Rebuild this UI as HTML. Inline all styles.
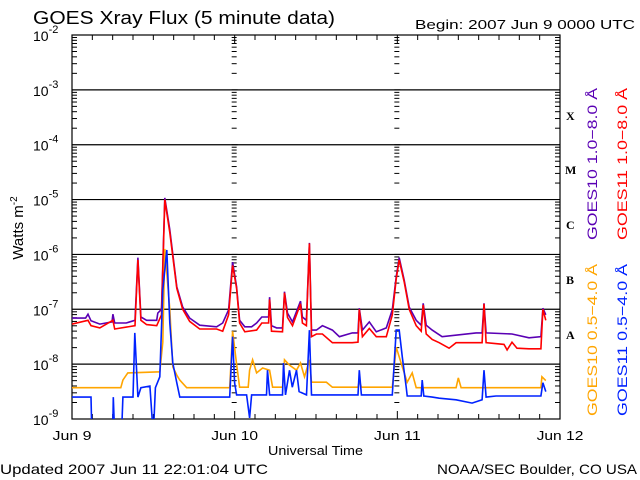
<!DOCTYPE html>
<html><head><meta charset="utf-8"><style>
html,body{margin:0;padding:0;background:#fff;}
svg{display:block;font-family:"Liberation Sans","DejaVu Sans",sans-serif;}
</style></head><body>
<svg id="chart" width="640" height="480" viewBox="0 0 640 480">
<text x="33" y="24" font-size="18" textLength="302" lengthAdjust="spacingAndGlyphs">GOES Xray Flux (5 minute data)</text>
<text x="415" y="29" font-size="13" textLength="220" lengthAdjust="spacingAndGlyphs">Begin:  2007 Jun 9 0000 UTC</text>
<text x="0" y="474" font-size="14" textLength="268" lengthAdjust="spacingAndGlyphs">Updated 2007 Jun 11 22:01:04 UTC</text>
<text x="437" y="474" font-size="14" textLength="200" lengthAdjust="spacingAndGlyphs">NOAA/SEC Boulder, CO USA</text>
<text x="268" y="455" font-size="13" textLength="95" lengthAdjust="spacingAndGlyphs">Universal Time</text>
<text transform="translate(23,228) rotate(-90)" font-size="15" text-anchor="middle">Watts m<tspan font-size="10" dy="-6">-2</tspan></text>
<g id="axes"></g>
<g id="series"></g>
<g font-family="Liberation Serif,serif" font-weight="bold" font-size="12">
<text x="566" y="120">X</text>
<text x="565" y="174">M</text>
<text x="566" y="229">C</text>
<text x="566" y="284">B</text>
<text x="566" y="339">A</text>
</g>
<text transform="translate(597,240) rotate(-90)" font-size="14" fill="#5a00b4" textLength="152" lengthAdjust="spacingAndGlyphs">GOES10 1.0−8.0 Å</text>
<text transform="translate(627,240) rotate(-90)" font-size="14" fill="#ff0000" textLength="152" lengthAdjust="spacingAndGlyphs">GOES11 1.0−8.0 Å</text>
<text transform="translate(597,416) rotate(-90)" font-size="14" fill="#ffa500" textLength="152" lengthAdjust="spacingAndGlyphs">GOES10 0.5−4.0 Å</text>
<text transform="translate(627,416) rotate(-90)" font-size="14" fill="#0022ff" textLength="152" lengthAdjust="spacingAndGlyphs">GOES11 0.5−4.0 Å</text>
</svg>
<script>
const dayLabels = ["Jun 9","Jun 10","Jun 11","Jun 12"];
const decadeExps = [-2,-3,-4,-5,-6,-7,-8,-9];
const g10LongT = [0,2.0,2.36,2.8,4.1,5.9,6.04,6.3,8.0,9.3,9.72,10.16,11,12.5,12.66,13.2,13.69,14.43,15.46,16.34,17.37,18.84,21.34,22.23,23.11,23.70,24.29,24.73,25.5,26.5,27.23,28.0,29.0,29.15,29.44,30.18,31.06,31.35,31.8,32.53,33.71,34.0,34.59,35.03,35.33,36.06,36.95,38.42,39.45,41.36,42.2,42.39,42.84,43.87,44.9,46.37,47.25,47.84,48.28,49.02,49.75,50.78,51.52,51.81,52.26,53.14,54.61,59.62,60.5,60.79,61.09,64.92,67.42,69.18,69.48,69.9];
const g10LongV = [-7.16,-7.16,-7.09,-7.21,-7.27,-7.23,-7.09,-7.25,-7.25,-7.2,-6.06,-7.14,-7.2,-7.2,-7.07,-7.0,-4.97,-5.55,-6.59,-6.96,-7.16,-7.29,-7.32,-7.25,-7.01,-6.14,-6.59,-7.2,-7.32,-7.32,-7.25,-7.14,-7.14,-6.78,-7.3,-7.34,-7.34,-6.68,-7.07,-7.23,-6.85,-7.14,-7.2,-5.79,-7.38,-7.38,-7.3,-7.38,-7.5,-7.43,-7.43,-6.98,-7.38,-7.23,-7.41,-7.34,-7.01,-6.41,-6.06,-6.47,-6.96,-7.2,-7.29,-6.89,-7.29,-7.38,-7.5,-7.43,-7.43,-6.89,-7.43,-7.45,-7.52,-7.5,-6.98,-7.1];
const g11LongT = [0,2.36,2.8,4.1,6.04,6.3,9.3,9.72,10.16,11,12.5,13.2,13.69,14.43,15.46,16.34,17.37,18.84,21.34,22.23,23.11,23.70,24.29,24.73,25.5,27.23,28.0,29.0,29.15,29.44,31.06,31.35,31.8,32.53,33.71,34.0,34.59,35.03,35.33,36.06,36.95,38.42,41.36,42.2,42.39,42.84,43.87,44.9,46.37,47.25,47.84,48.28,49.02,49.75,50.78,51.52,51.81,52.26,53.14,54.17,55.64,56.67,59.62,60.5,60.79,61.09,63.74,64.2,64.92,65.65,67.42,69.18,69.48,69.9];
const g11LongV = [-7.27,-7.2,-7.3,-7.34,-7.2,-7.36,-7.3,-6.1,-7.2,-7.28,-7.3,-7.1,-5.0,-5.6,-6.62,-7.0,-7.22,-7.36,-7.36,-7.4,-7.1,-6.2,-6.62,-7.25,-7.41,-7.38,-7.25,-7.25,-6.82,-7.4,-7.41,-6.7,-7.15,-7.3,-6.9,-7.25,-7.3,-5.8,-7.5,-7.45,-7.45,-7.61,-7.61,-7.6,-7.0,-7.5,-7.35,-7.5,-7.5,-7.1,-6.45,-6.1,-6.5,-7.0,-7.3,-7.4,-6.92,-7.45,-7.55,-7.61,-7.71,-7.61,-7.61,-7.61,-6.9,-7.61,-7.64,-7.74,-7.6,-7.71,-7.72,-7.72,-7.0,-7.2];
const g10ShortT = [0,7.2,7.51,8.24,12.95,13.4,13.69,14.43,14.87,15.46,15.9,16.93,23.26,23.70,24.29,24.73,26.0,26.2,26.64,27.23,28.12,29.15,29.59,31.06,31.35,32.09,33.12,33.71,34.3,35.03,35.33,37.54,38.42,42.2,42.39,42.7,47.25,47.84,48.73,49.46,50.2,50.78,56.67,57.0,57.41,69.18,69.33,69.9];
const g10ShortV = [-8.43,-8.43,-8.29,-8.16,-8.14,-7.6,-5.9,-7.0,-8.05,-8.2,-8.29,-8.43,-8.43,-7.4,-8.0,-8.42,-8.42,-8.11,-7.92,-8.16,-8.07,-8.11,-8.42,-8.42,-7.92,-8.02,-8.11,-7.98,-8.23,-7.92,-8.33,-8.33,-8.42,-8.42,-8.3,-8.42,-8.42,-7.69,-8.05,-8.33,-8.16,-8.43,-8.43,-8.25,-8.43,-8.43,-8.23,-8.3];
const g11ShortT = [0,2.8,2.94,6.0,6.1,6.3,7.3,7.51,9.0,9.27,9.72,10.16,11.5,12.0,12.3,12.95,13.4,13.98,14.43,14.87,15.46,15.9,23.26,23.70,23.99,24.29,25.76,26.2,26.5,28.7,28.85,29.15,31.06,31.2,31.5,32.09,32.5,33.12,33.5,34.6,35.03,35.33,42.2,42.39,42.7,47.25,47.84,48.28,48.73,49.31,49.46,51.52,51.67,51.9,53.14,54.17,56.67,59.03,60.5,60.79,61.09,62.56,69.18,69.48,69.9];
const g11ShortV = [-8.6,-8.6,-9.3,-9.3,-8.6,-9.3,-9.3,-8.6,-8.6,-7.43,-8.6,-8.43,-8.4,-9.3,-8.43,-8.23,-6.65,-5.92,-7.25,-7.98,-8.34,-8.6,-8.6,-7.5,-8.34,-8.56,-8.56,-8.98,-8.56,-8.56,-8.11,-8.56,-8.56,-7.98,-8.56,-8.11,-8.42,-8.11,-8.5,-8.56,-7.38,-8.56,-8.56,-8.11,-8.56,-8.56,-7.38,-7.38,-7.87,-8.42,-8.58,-8.58,-8.29,-8.58,-8.6,-8.62,-8.65,-8.71,-8.65,-8.11,-8.6,-8.58,-8.58,-8.34,-8.5];

const X0=72, X1=560, Y0=35, Y1=419;
function xs(h){return X0+(X1-X0)*h/72;}
function ys(l){return Y0+(Y1-Y0)*(-2-l)/7;}
const NS="http://www.w3.org/2000/svg";
function mk(tag,attrs,parent){const e=document.createElementNS(NS,tag);for(const k in attrs)e.setAttribute(k,attrs[k]);parent.appendChild(e);return e;}
const axes=document.getElementById('axes');
const frame=mk('rect',{x:X0,y:Y0,width:X1-X0,height:Y1-Y0,fill:'none',stroke:'#000','stroke-width':1.2},axes);


decadeExps.forEach(function(e,i){
  const y=ys(e);
  if(e<-2&&e>-9){const gl=mk('line',{x1:X0,x2:X1,y1:y,y2:y,stroke:'#000','stroke-width':1.2},axes);
    
    }
  const t=mk('text',{x:33,y:y+6,'font-size':14},axes);
  
  
  t.textContent='10';
  const s=mk('tspan',{'font-size':11,dy:-8},t); s.textContent=String(e);
  if(e>-9){for(let m=2;m<=9;m++){
    const yy=ys(e-1+Math.log10(m));
    [X0, X1-5, xs(24)-3, xs(48)-3].forEach(function(xx){mk('line',{x1:xx,x2:xx+5,y1:yy,y2:yy,stroke:'#000','stroke-width':1},axes);});
  }}
  [xs(24)-3, xs(48)-3].forEach(function(xx){mk('line',{x1:xx,x2:xx+6,y1:y,y2:y,stroke:'#000','stroke-width':1},axes);});
});
for(let h=3;h<72;h+=3){
  const x=xs(h); const L=(h%24===0)?8:5;
  mk('line',{x1:x,x2:x,y1:Y1,y2:Y1-L,stroke:'#000','stroke-width':1},axes);
  mk('line',{x1:x,x2:x,y1:Y0,y2:Y0+L,stroke:'#000','stroke-width':1},axes);
}
dayLabels.forEach(function(d,i){
  const t=mk('text',{x:xs(i*24),y:440,'font-size':13,'text-anchor':'middle','textLength':d.length*7.8,'lengthAdjust':'spacingAndGlyphs'},axes);
  
  
  t.textContent=d;
});
const sg=document.getElementById('series');
mk('clipPath',{id:'pc'},sg).appendChild(document.createElementNS(NS,'rect'));
const cr=sg.querySelector('clipPath rect');cr.setAttribute('x',X0);cr.setAttribute('y',Y0);cr.setAttribute('width',X1-X0);cr.setAttribute('height',Y1-Y0);
function draw(T,V,color,name){
  let pts=T.map(function(t,i){return xs(t).toFixed(1)+','+ys(V[i]).toFixed(1);}).join(' ');
  const p=mk('polyline',{points:pts,fill:'none',stroke:color,'stroke-width':1.6,'clip-path':'url(#pc)','stroke-linejoin':'miter'},sg);
  
  
}
draw(g10LongT,g10LongV,'#5a00b4','goes10-long-line');
draw(g11LongT,g11LongV,'#ff0000','goes11-long-line');
draw(g10ShortT,g10ShortV,'#ffa500','goes10-short-line');
draw(g11ShortT,g11ShortV,'#0022ff','goes11-short-line');
</script>
</body></html>
